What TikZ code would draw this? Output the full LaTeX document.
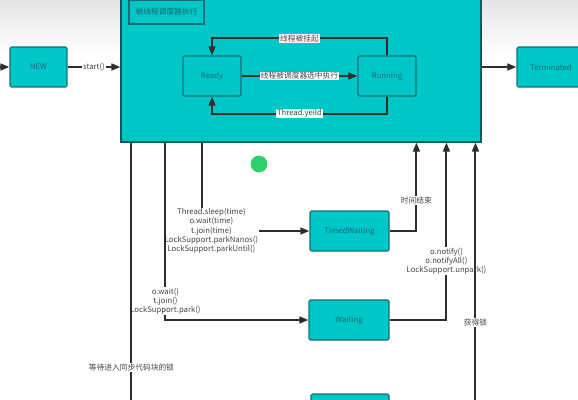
\documentclass[tikz,border=0pt]{standalone}
\usepackage{fontspec}
\setmainfont{Noto Sans CJK SC}
\usetikzlibrary{arrows.meta,calc}

\definecolor{boxfill}{RGB}{0,199,199}
\definecolor{boxline}{RGB}{18,110,122}
\definecolor{boxtext}{RGB}{25,105,118}
\definecolor{wire}{RGB}{45,45,45}
\definecolor{lbltext}{RGB}{70,70,70}
\definecolor{dotgreen}{RGB}{43,210,110}

\tikzset{
  state/.style={draw=boxline, fill=boxfill, line width=1.6pt, rounded corners=2pt,
    text=boxtext, font=\fontsize{11}{13}\selectfont, inner sep=0pt},
  lbl/.style={fill=white, inner sep=1pt, text=lbltext, align=center,
    font=\fontsize{11}{13.3}\selectfont},
  wire/.style={draw=wire, line width=2.8pt},
  go/.style={wire, -{Triangle[length=4.5mm,width=3.4mm]}}
}

\begin{document}
\begin{tikzpicture}[x=0.05cm, y=-0.05cm]
    \useasboundingbox (0,0) rectangle (578,400);
    \clip (0,0) rectangle (578,400);
    % Background
    \fill[white] (0,0) rectangle (578,400);
    \fill[top color=black!10, bottom color=white] (0,0) rectangle (578,55);

    % Runnable container
    \node[state, draw=boxline!80!black, minimum width=18cm, minimum height=8.1cm,
      rounded corners=0pt] (runnable) at (301,61) {};
    \node[state, rounded corners=0pt, minimum width=3.75cm, minimum height=1.2cm] (title)
      at (166.5,12) {被线程调度器执行};

    % States
    \node[state, minimum width=2.85cm, minimum height=2cm] (new) at (38.5,67) {NEW};
    \node[state, minimum width=2.9cm, minimum height=2cm] (ready) at (212,76) {Ready};
    \node[state, minimum width=2.9cm, minimum height=2cm] (running) at (387,76) {Running};
    \node[state, minimum width=3.4cm, minimum height=2cm] (terminated) at (551,67) {Terminated};
    \node[state, minimum width=3.95cm, minimum height=2cm] (timedwait) at (349.5,231) {TimedWaiting};
    \node[state, minimum width=4cm, minimum height=2cm] (waiting) at (349,320) {Waiting};
    \node[state, minimum width=3.9cm, minimum height=2cm] (blocked) at (350,414) {};

    % Green dot
    \fill[dotgreen] (259,164) circle (0.42cm);

    % Outer transitions
    \coordinate (entry) at (-10,67);
    \draw[go] (entry) -- (new.west);
    \draw[go] (new.east) -- (new.east -| runnable.west) node[lbl, midway] {start()};
    \draw[go] (terminated.west -| runnable.east) -- (terminated.west);

    % Inside the container
    \draw[go] (running.north) -- ++(0,-17) -| (ready.north)
      node[lbl, pos=0.25] {线程被挂起};
    \draw[go] (ready.east) -- (running.west) node[lbl, midway] {线程被调度器选中执行};
    \draw[go] (running.south) -- ++(0,17) -| (ready.south)
      node[lbl, pos=0.25] {Thread.yeild};

    % Down to the waiting states
    \draw[go] (runnable.south west) ++(82,0) |- (timedwait.west)
      node[lbl, pos=0.5, xshift=0.45cm] {Thread.sleep(time)\\o.wait(time)\\t.join(time)\\LockSupport.parkNanos()\\LockSupport.parkUntil()};
    \draw[go] (runnable.south west) ++(45,0) |- (waiting.west)
      node[lbl, pos=0.447] {o.wait()\\t.join()\\LockSupport.park()};
    \draw[go] (runnable.south west) ++(11,0) |- (blocked.west)
      node[lbl, pos=0.414] {等待进入同步代码块的锁};

    % Back up to the container
    \draw[go] (timedwait.east) -| ($(runnable.south west)+(296,0)$)
      node[lbl, pos=0.672] {时间结束};
    \draw[go] (waiting.east) -| ($(runnable.south west)+(326,0)$)
      node[lbl, pos=0.666] {o.notify()\\o.notifyAll()\\LockSupport.unpark()};
    \draw[go] (blocked.east) -| ($(runnable.south west)+(355,0)$)
      node[lbl, pos=0.669] {获得锁};
\end{tikzpicture}
\end{document}
